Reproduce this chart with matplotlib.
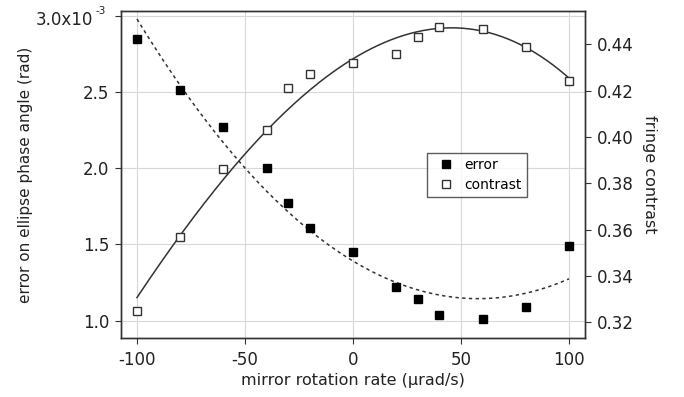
import numpy as np
import matplotlib
matplotlib.use("Agg")
import matplotlib.pyplot as plt
from matplotlib.ticker import FuncFormatter
from matplotlib.lines import Line2D

# measured data
rate = [-100, -80, -60, -40, -30, -20, 0, 20, 30, 40, 60, 80, 100]
error = [2.85, 2.51, 2.27, 2.00, 1.77, 1.61, 1.45, 1.22, 1.14, 1.04, 1.01, 1.09, 1.49]  # x1e-3 rad
contrast = [0.325, 0.357, 0.386, 0.403, 0.421, 0.427, 0.432, 0.436, 0.443, 0.4475, 0.4465, 0.439, 0.424]

# fitted contrast curve, values at a few rates
fit_rate = [-100, -80, -48, 0, 43, 60, 100]
fit_contrast = [0.331, 0.357, 0.3947, 0.4344, 0.4465, 0.4458, 0.4255]

plt.rcParams['font.family'] = ['DejaVu Sans']
plt.rcParams['axes.unicode_minus'] = False

fig = plt.figure(figsize=(6.84, 3.97), dpi=100)
ax = fig.add_axes([0.1769, 0.1486, 0.8553 - 0.1769, 0.9723 - 0.1486])
ax2 = ax.twinx()

xs = np.linspace(-100, 100, 200)
pe = np.polyfit(rate, error, 2)
pc = np.polyfit(fit_rate, fit_contrast, 3)

ax.plot(xs, np.polyval(pe, xs), color='#333333', lw=1.1, ls=(0, (2.2, 2.2)), zorder=2)
ax.plot(rate, error, ls='none', marker='s', ms=5.5, mfc='black', mec='black', zorder=3)
ax2.plot(xs, np.polyval(pc, xs), color='#333333', lw=1.1, zorder=2)
ax2.plot(rate, contrast, ls='none', marker='s', ms=5.5, mfc='white', mec='#333333', mew=1.0, zorder=3)

ax.set_xlim(-107.4, 107.4)
ax.set_ylim(0.886, 3.031)
ax2.set_ylim(0.3132, 0.4544)
ax.set_xticks([-100, -50, 0, 50, 100])
ax.set_yticks([1.0, 1.5, 2.0, 2.5, 3.0])
ax2.set_yticks([0.32, 0.34, 0.36, 0.38, 0.40, 0.42, 0.44])

def lfmt(v, pos):
    if abs(v - 3.0) < 1e-9:
        return ''
    return f'{v:.1f}'
ax.yaxis.set_major_formatter(FuncFormatter(lfmt))
ax2.yaxis.set_major_formatter(FuncFormatter(lambda v, p: f'{v:.2f}'))

# top tick label with exponent
ax.annotate('3.0x10', xy=(0, 3.0), xycoords=('axes fraction', 'data'),
            xytext=(-27.5, -4), textcoords='offset pixels', ha='right', va='center',
            fontsize=12, color='#222222', annotation_clip=False)
ax.annotate('-3', xy=(0, 3.0), xycoords=('axes fraction', 'data'),
            xytext=(-25, 5), textcoords='offset pixels', ha='left', va='center',
            fontsize=7.5, color='#222222', annotation_clip=False)

ax.grid(True, color='#d8d8d8', lw=0.8)
ax.set_axisbelow(True)
for a in (ax, ax2):
    for s in a.spines.values():
        s.set_color('#333333')
        s.set_linewidth(1.0)
    a.tick_params(direction='out', length=4.5, width=0.8, color='#333333', labelsize=12,
                  labelcolor='#222222', pad=4)
ax.tick_params(axis='x', pad=5)

ax.set_xlabel('mirror rotation rate (μrad/s)', fontsize=11.5, color='#222222', labelpad=3)
ax.set_ylabel('error on ellipse phase angle (rad)', fontsize=11, color='#222222')
ax.yaxis.set_label_coords(-0.19, 0.5)
ax2.set_ylabel('fringe contrast', fontsize=11.5, color='#222222', rotation=-90, labelpad=17)

h = [Line2D([], [], ls='none', marker='s', ms=5.5, mfc='black', mec='black'),
     Line2D([], [], ls='none', marker='s', ms=5.5, mfc='white', mec='#333333')]
leg = ax2.legend(h, ['error', 'contrast'], loc='upper left', bbox_to_anchor=(0.659, 0.565),
                 fontsize=10, frameon=True, fancybox=False, edgecolor='#333333',
                 handlelength=2.0, handletextpad=0.36, borderpad=0.35, labelspacing=0.42,
                 borderaxespad=0)
leg.get_frame().set_linewidth(1.0)

fig.savefig('out.png', dpi=100)
